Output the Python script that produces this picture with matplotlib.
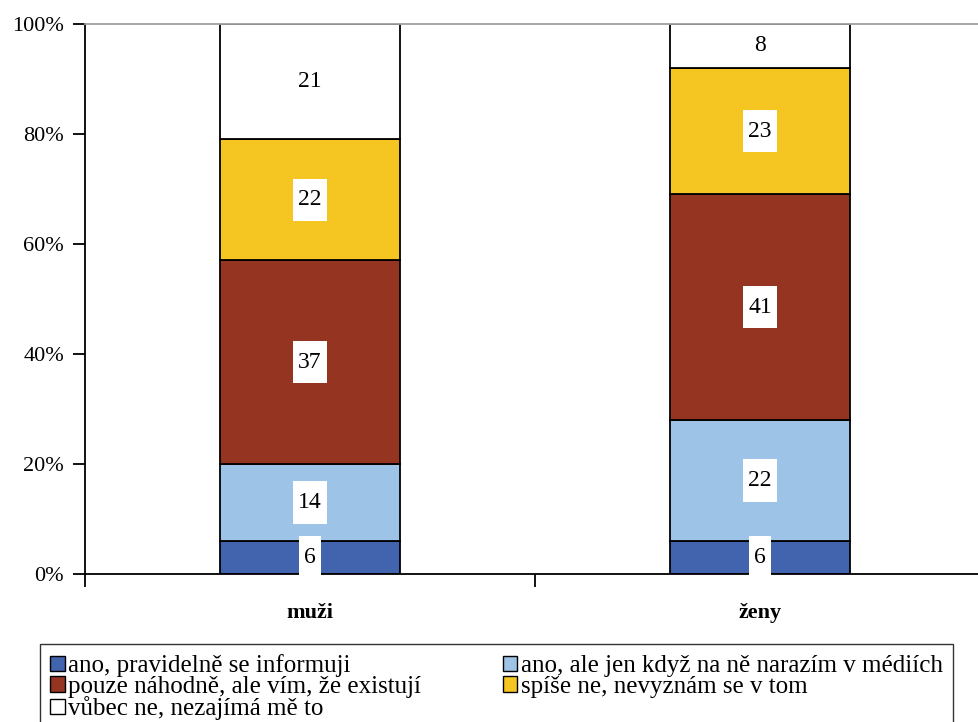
import matplotlib
matplotlib.use("Agg")
import matplotlib.pyplot as plt
from matplotlib.path import Path
import numpy as np

plt.rcParams['font.family'] = ['Liberation Serif', 'DejaVu Serif']

categories = ["muži", "ženy"]
series_names = [
    "ano, pravidelně se informuji",
    "ano, ale jen když na ně narazím v médiích",
    "pouze náhodně, ale vím, že existují",
    "spíše ne, nevyznám se v tom",
    "vůbec ne, nezajímá mě to",
]
values = [
    [6, 6],
    [14, 22],
    [37, 41],
    [22, 23],
    [21, 8],
]
colors = ["#4263ad", "#9dc3e6", "#953420", "#f5c621", "#ffffff"]
y_ticks = [0, 20, 40, 60, 80, 100]


def label_box(x0, y0, width, height, mutation_size):
    # white rectangle with more vertical than horizontal padding
    px = 0.22 * mutation_size
    py = 0.45 * mutation_size
    x0, y0 = x0 - px, y0 - py
    x1, y1 = x0 + width + 2 * px, y0 + height + 2 * py
    return Path([(x0, y0), (x1, y0), (x1, y1), (x0, y1), (x0, y0)], closed=True)


fig = plt.figure(figsize=(9.79, 7.22), dpi=100)
ax = fig.add_axes([85 / 979, 1 - 574 / 722, 900 / 979, 550 / 722])

x = np.arange(len(categories))
bottom = np.zeros(len(categories))
handles = []
for name, vals, col in zip(series_names, values, colors):
    vals = np.array(vals, dtype=float)
    bars = ax.bar(x, vals, width=0.402, bottom=bottom, color=col,
                  edgecolor="black", linewidth=1.3, label=name, zorder=2)
    handles.append(bars)
    # labels on white segments need no backing box
    box = None if col == "#ffffff" else dict(boxstyle=label_box,
                                             facecolor="white",
                                             edgecolor="none")
    for xi, b, v in zip(x, bottom, vals):
        ax.text(xi, b + v / 2, f"{int(v)}", ha="center", va="center",
                fontsize=17, zorder=4, bbox=box)
    bottom += vals

ax.set_xlim(-0.5, 1.5)
ax.set_ylim(0, 100)
ax.set_yticks(y_ticks)
ax.set_yticklabels([f"{t}%" for t in y_ticks], fontsize=16)
ax.tick_params(axis="y", direction="out", length=9, width=1.3, pad=6)

ax.set_xticks([-0.5, 0.5, 1.5])
ax.set_xticklabels(["", "", ""])
ax.tick_params(axis="x", which="major", direction="out", length=9, width=1.3)
ax.set_xticks(x, minor=True)
ax.set_xticklabels(categories, minor=True, fontsize=16, fontweight="bold")
ax.tick_params(axis="x", which="minor", length=0, pad=21)

ax.spines["right"].set_visible(False)
ax.spines["top"].set_color("#a0a0a0")
ax.spines["top"].set_linewidth(1.3)
ax.spines["left"].set_linewidth(1.3)
ax.spines["bottom"].set_linewidth(1.3)

order = [0, 2, 4, 1, 3]
leg = fig.legend([handles[i] for i in order], [series_names[i] for i in order],
                 loc="upper left", bbox_to_anchor=(40 / 979, 1 - 644 / 722),
                 ncol=2, fontsize=18, frameon=True, fancybox=False,
                 edgecolor="black", handlelength=0.57, handleheight=0.57,
                 handletextpad=0.15, columnspacing=3.25, labelspacing=-0.06,
                 borderpad=0.42, borderaxespad=0)
leg.get_frame().set_linewidth(1.0)
for p in leg.get_patches():
    p.set_linewidth(1.0)

fig.savefig("out.png", dpi=100)
